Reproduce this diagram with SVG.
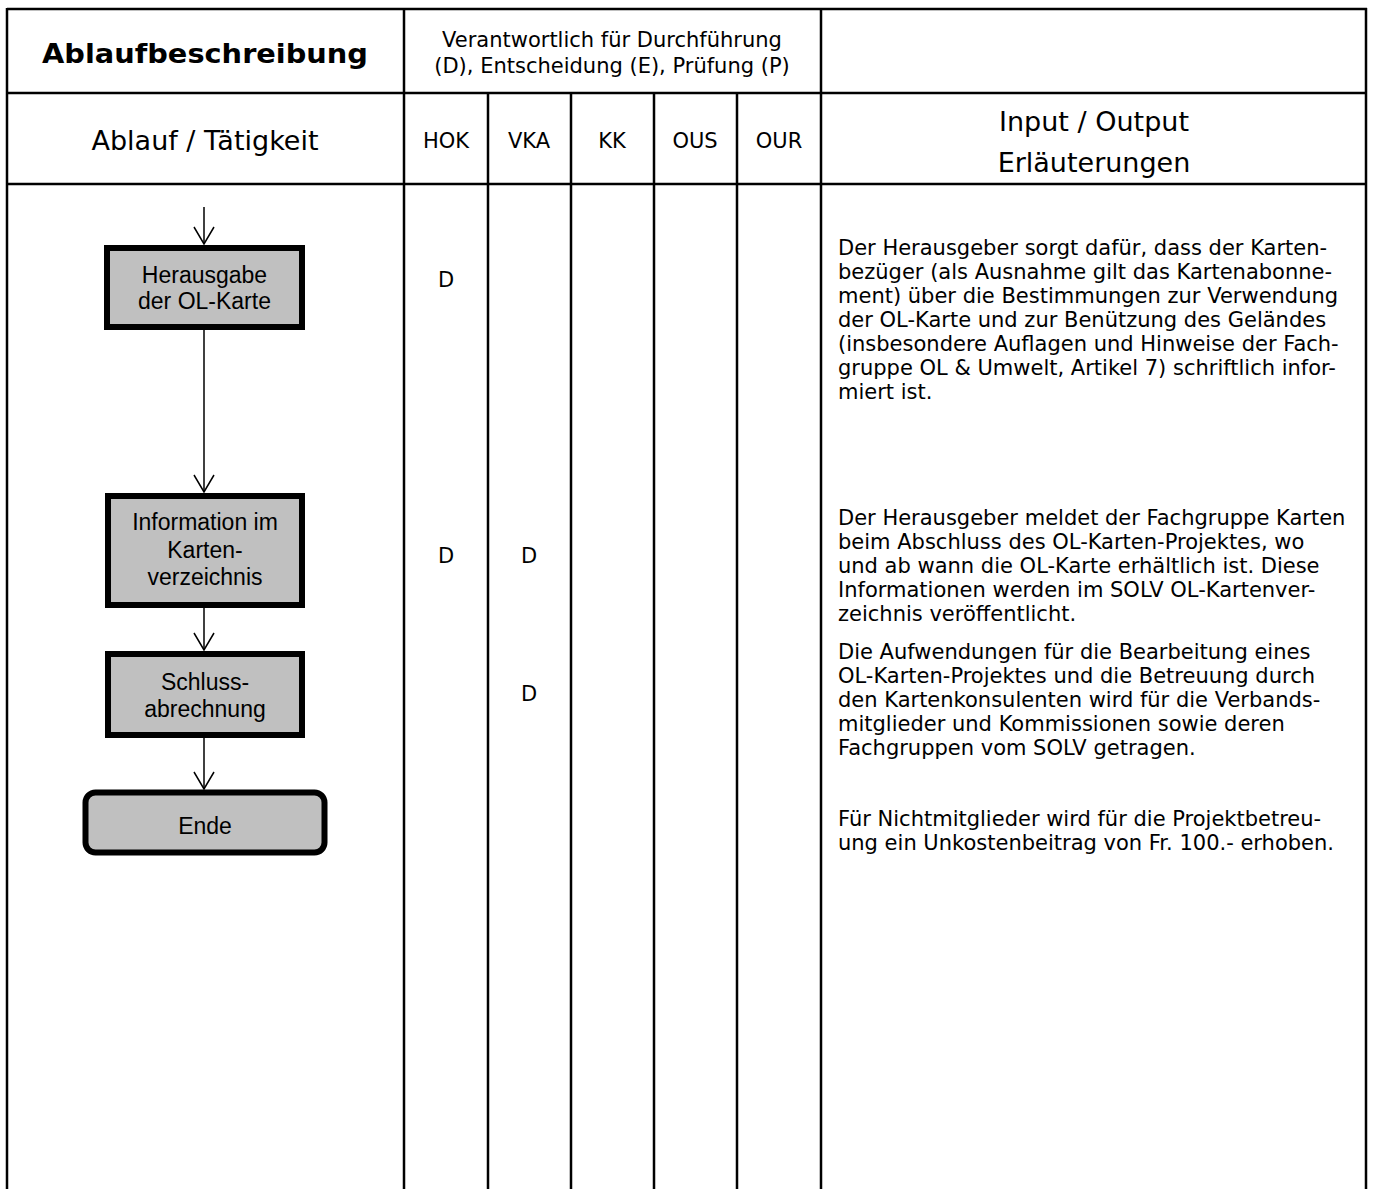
<svg xmlns="http://www.w3.org/2000/svg" width="1376" height="1189" viewBox="0 0 1376 1189">
<style>
.grid{stroke:#000;stroke-width:2.5;fill:none}
.t{font-family:"DejaVu Sans",Verdana,sans-serif;fill:#000}
.hd{font-size:27px;text-anchor:middle}
.sm{font-size:21px;text-anchor:middle}
.body{font-size:21px}
.box{fill:#C0C0C0;stroke:#000;stroke-width:6}
.nt{font-family:"Liberation Sans",Arial,sans-serif;font-size:23px;text-anchor:middle;fill:#000}
.conn{stroke:#000;stroke-width:1.5;fill:none}
</style>
<defs>
<marker id="arr" markerUnits="userSpaceOnUse" markerWidth="40" markerHeight="40" refX="0" refY="0" orient="auto" overflow="visible">
<path d="M-17,-10 L0,0 L-17,10" fill="none" stroke="#000" stroke-width="1.5"/>
</marker>
</defs>
<rect width="1376" height="1189" fill="#fff"/>
<g id="table">
<line class="grid" x1="7" y1="9" x2="1367" y2="9"/>
<line class="grid" x1="7" y1="93" x2="1367" y2="93"/>
<line class="grid" x1="7" y1="184" x2="1367" y2="184"/>
<line class="grid" x1="7" y1="8" x2="7" y2="1189"/>
<line class="grid" x1="1366" y1="8" x2="1366" y2="1189"/>
<line class="grid" x1="404" y1="8" x2="404" y2="1189"/>
<line class="grid" x1="821" y1="8" x2="821" y2="1189"/>
<line class="grid" x1="488" y1="93" x2="488" y2="1189"/>
<line class="grid" x1="571" y1="93" x2="571" y2="1189"/>
<line class="grid" x1="654" y1="93" x2="654" y2="1189"/>
<line class="grid" x1="737" y1="93" x2="737" y2="1189"/>
</g>
<g id="headers">
<text class="t" x="205" y="63" font-size="27" font-weight="bold" text-anchor="middle" textLength="326" lengthAdjust="spacingAndGlyphs">Ablaufbeschreibung</text>
<text class="t sm" x="612" y="47" font-size="22">Verantwortlich für Durchführung</text>
<text class="t sm" x="612" y="73" font-size="22">(D), Entscheidung (E), Prüfung (P)</text>
<text class="t hd" x="205" y="150">Ablauf / Tätigkeit</text>
<text class="t sm" x="446" y="148">HOK</text>
<text class="t sm" x="529" y="148">VKA</text>
<text class="t sm" x="612" y="148">KK</text>
<text class="t sm" x="695" y="148">OUS</text>
<text class="t sm" x="779" y="148">OUR</text>
<text class="t hd" x="1094" y="131">Input / Output</text>
<text class="t hd" x="1094" y="172">Erläuterungen</text>
</g>
<g id="responsibilities">
<text class="t sm" x="446" y="287">D</text>
<text class="t sm" x="446" y="563">D</text>
<text class="t sm" x="529" y="563">D</text>
<text class="t sm" x="529" y="701">D</text>
</g>
<g id="connectors">
<line class="conn" x1="204" y1="207" x2="204" y2="244" marker-end="url(#arr)"/>
<line class="conn" x1="204" y1="330" x2="204" y2="492" marker-end="url(#arr)"/>
<line class="conn" x1="204" y1="608" x2="204" y2="650" marker-end="url(#arr)"/>
<line class="conn" x1="204" y1="738" x2="204" y2="789" marker-end="url(#arr)"/>
</g>
<g id="node-herausgabe">
<rect class="box" x="107" y="248" width="195" height="79"/>
<text class="nt" x="204.5" y="283">Herausgabe</text>
<text class="nt" x="204.5" y="309">der OL-Karte</text>
</g>
<g id="node-information">
<rect class="box" x="108" y="496" width="194" height="109"/>
<text class="nt" x="205" y="530">Information im</text>
<text class="nt" x="205" y="558">Karten-</text>
<text class="nt" x="205" y="585">verzeichnis</text>
</g>
<g id="node-schluss">
<rect class="box" x="108" y="654" width="194" height="81"/>
<text class="nt" x="205" y="690">Schluss-</text>
<text class="nt" x="205" y="717">abrechnung</text>
</g>
<g id="node-ende">
<rect class="box" x="85.5" y="792.5" width="239" height="60" rx="10" ry="10" stroke-width="5"/>
<text class="nt" x="205" y="834" font-size="27">Ende</text>
</g>
<g id="notes">
<text class="t body" x="838">
<tspan x="838" y="255">Der Herausgeber sorgt dafür, dass der Karten-</tspan>
<tspan x="838" y="279">bezüger (als Ausnahme gilt das Kartenabonne-</tspan>
<tspan x="838" y="303">ment) über die Bestimmungen zur Verwendung</tspan>
<tspan x="838" y="327">der OL-Karte und zur Benützung des Geländes</tspan>
<tspan x="838" y="351">(insbesondere Auflagen und Hinweise der Fach-</tspan>
<tspan x="838" y="375">gruppe OL &amp; Umwelt, Artikel 7) schriftlich infor-</tspan>
<tspan x="838" y="399">miert ist.</tspan>
</text>
<text class="t body" x="838">
<tspan x="838" y="525">Der Herausgeber meldet der Fachgruppe Karten</tspan>
<tspan x="838" y="549">beim Abschluss des OL-Karten-Projektes, wo</tspan>
<tspan x="838" y="573">und ab wann die OL-Karte erhältlich ist. Diese</tspan>
<tspan x="838" y="597">Informationen werden im SOLV OL-Kartenver-</tspan>
<tspan x="838" y="621">zeichnis veröffentlicht.</tspan>
</text>
<text class="t body" x="838">
<tspan x="838" y="659">Die Aufwendungen für die Bearbeitung eines</tspan>
<tspan x="838" y="683">OL-Karten-Projektes und die Betreuung durch</tspan>
<tspan x="838" y="707">den Kartenkonsulenten wird für die Verbands-</tspan>
<tspan x="838" y="731">mitglieder und Kommissionen sowie deren</tspan>
<tspan x="838" y="755">Fachgruppen vom SOLV getragen.</tspan>
</text>
<text class="t body" x="838">
<tspan x="838" y="826">Für Nichtmitglieder wird für die Projektbetreu-</tspan>
<tspan x="838" y="850">ung ein Unkostenbeitrag von Fr. 100.- erhoben.</tspan>
</text>
</g>
</svg>
